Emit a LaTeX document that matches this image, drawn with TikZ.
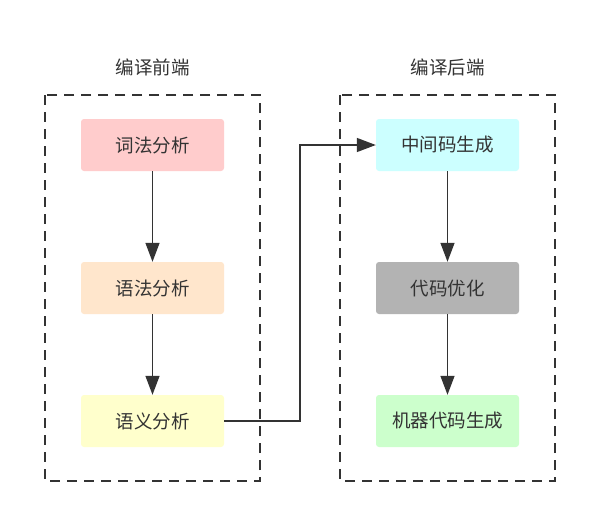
\documentclass[tikz,border=0pt]{standalone}
\usepackage{fontspec}
\newfontfamily\cjk{Noto Sans CJK SC}
\usetikzlibrary{arrows.meta}
\definecolor{ink}{HTML}{333333}
\definecolor{cpink}{HTML}{FFCCCC}
\definecolor{cpeach}{HTML}{FFE6CC}
\definecolor{cyellow}{HTML}{FFFFCC}
\definecolor{ccyan}{HTML}{CCFFFF}
\definecolor{cgray}{HTML}{B3B3B3}
\definecolor{cgreen}{HTML}{CCFFCC}
\tikzset{
  stepbox/.style={rectangle, rounded corners=3pt, minimum width=143pt, minimum height=52pt, inner sep=0pt, font=\cjk\fontsize{18.5}{22}\selectfont, text=ink},
  groupbox/.style={draw=ink, line width=1.4pt, dash pattern=on 10pt off 7pt},
  title/.style={font=\cjk\fontsize{18.5}{22}\selectfont, text=ink},
  flow/.style={draw=ink, line width=1.4pt, -{Triangle[length=19pt,width=14pt]}}
}
\begin{document}
\begin{tikzpicture}[x=1pt,y=-1pt]
\useasboundingbox (0,0) rectangle (600,517);
\fill[white] (0,0) rectangle (600,517);
\draw[groupbox] (45,95) rectangle (260,481);
\draw[groupbox] (340,95) rectangle (555,481);
\node[title] (t1) at (152.5,67) {编译前端};
\node[title] (t2) at (447.5,67) {编译后端};
\node[stepbox, fill=cpink] (a) at (152.5,145) {词法分析};
\node[stepbox, fill=cpeach] (b) at (152.5,288) {语法分析};
\node[stepbox, fill=cyellow] (c) at (152.5,421) {语义分析};
\node[stepbox, fill=ccyan] (d) at (447.5,145) {中间码生成};
\node[stepbox, fill=cgray] (e) at (447.5,288) {代码优化};
\node[stepbox, fill=cgreen] (f) at (447.5,421) {机器代码生成};
\draw[flow] (a) -- (b);
\draw[flow] (b) -- (c);
\draw[flow] (d) -- (e);
\draw[flow] (e) -- (f);
\draw[flow] (c.east) -- (300,421) -- (300,145) -- (d.west);
\end{tikzpicture}
\end{document}
